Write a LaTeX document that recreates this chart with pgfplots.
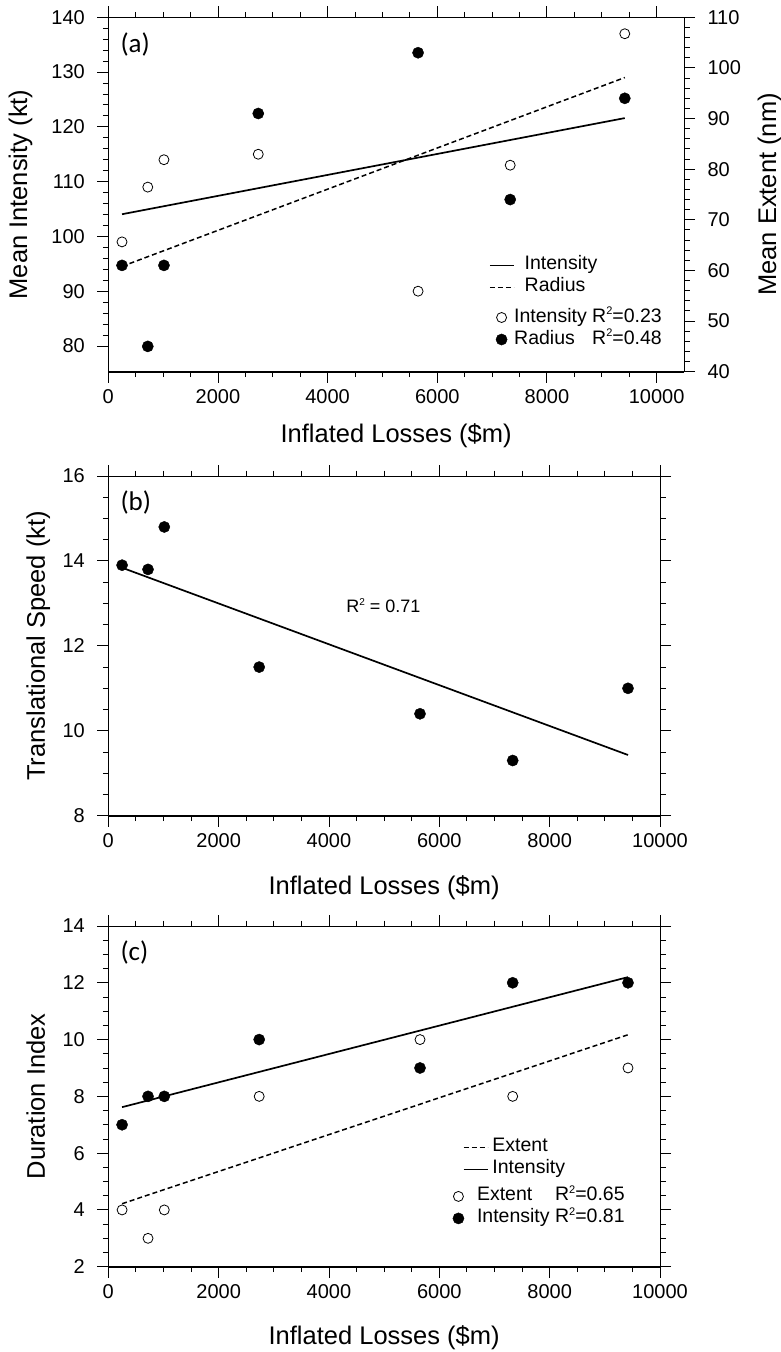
\documentclass[border=0pt]{standalone}
\usepackage{fontspec}
\setmainfont{Liberation Sans}
\newfontfamily\panelfont{Carlito}
\usepackage{pgfplots}
\pgfplotsset{compat=1.18}
\newcommand{\sqr}{\raisebox{7.5pt}{\fontsize{11}{11}\selectfont 2}}
\pgfplotsset{
 ncl/.style={
  scale only axis,
  axis line style={line width=0.9pt},
  tick align=outside,
  major tick length=11pt,
  minor tick length=5.5pt,
  every tick/.style={line width=0.9pt, black},
  tick label style={font=\fontsize{20}{20}\selectfont},
  xticklabel shift=3.5pt,
  yticklabel shift=9pt,
  label style={font=\fontsize{25.5}{25.5}\selectfont},
  /pgf/number format/assume math mode=true,
  /pgf/number format/1000 sep={},
  xmin=0,
  xtick={0,2000,...,10000},
  minor x tick num=3,
  scaled x ticks=false,
  scaled y ticks=false,
  clip=false,
  legend cell align=left,
 },
 legbase/.style={legend style={draw=none, fill=none, inner sep=0pt, outer sep=0pt,
   font=\fontsize{19.5}{19.5}\selectfont, row sep=3pt,
   nodes={inner sep=0pt, text height=14pt, text depth=5pt, anchor=west}}},
 lineleg/.style={legend image code/.code={\draw[##1] (0pt,0pt) -- (24pt,0pt);}},
 markleg/.style={legend image code/.code={\draw[mark repeat=1,mark phase=1,##1] plot coordinates {(5pt,0pt)};}},
 openpt/.style={only marks, mark=o, mark size=5pt, mark options={line width=0.8pt, black}, markleg},
 fillpt/.style={only marks, mark=*, mark size=5.6pt, mark options={black, fill=black}, markleg},
 solidfit/.style={black, line width=1.7pt, lineleg},
 dashfit/.style={black, line width=1.5pt, dash pattern=on 5pt off 3pt, lineleg},
}
\begin{document}
\begin{tikzpicture}
\path[use as bounding box] (0,0) rectangle (781pt,-1352pt);

% ---------------- Panel (a), left axis: intensity
\begin{axis}[ncl, legbase, at={(108.3pt,-17.3pt)}, anchor=north west,
  width=575.7pt, height=354.4pt,
  xmax=10500, ymin=75.3, ymax=140, ytick={80,90,...,140}, minor y tick num=4,
  xtick pos=both, ytick pos=left,
  xlabel={Inflated Losses (\$m)}, ylabel={Mean Intensity (kt)},
  xlabel style={at={(axis description cs:0.5,-0.201)}, anchor=base},
  ylabel style={at={(axis description cs:-0.141,0.5)}, anchor=base},
  legend style={at={(axis description cs:0.6613,0.3265)}, anchor=north west, column sep=10pt}]
\addplot[openpt, forget plot] coordinates {(250,99)(720,109)(1015,114)(2735,115)(5650,90)(7330,113)(9420,137)};
\addplot[solidfit] coordinates {(250,104.05)(9420,121.6)};
\addlegendentry{Intensity}
\addlegendimage{dashfit}
\addlegendentry{Radius}
\draw[line width=1.8pt] (rel axis cs:0,0) -- (rel axis cs:1,0);
\node[anchor=north west, inner sep=0pt, font=\panelfont\fontsize{27}{27}\selectfont] at ([xshift=12pt,yshift=-15pt]rel axis cs:0,1) {(a)};
\end{axis}

% ---------------- Panel (a), right axis: extent
\begin{axis}[ncl, legbase, at={(108.3pt,-17.3pt)}, anchor=north west,
  width=575.7pt, height=354.4pt,
  xmax=10500, ymin=40, ymax=110, ytick={40,50,...,110}, minor y tick num=4,
  axis y line*=right, hide x axis,
  ylabel={Mean Extent (nm)},
  ylabel style={at={(axis description cs:1.160,0.5)}, anchor=base},
  legend style={at={(axis description cs:0.6734,0.1797)}, anchor=north west, column sep=7pt}]
\addlegendimage{openpt}
\addlegendentry{Intensity R\sqr=0.23}
\addplot[dashfit, forget plot] coordinates {(250,60.8)(9420,98.1)};
\addplot[fillpt] coordinates {(250,61)(720,45)(1015,61)(2735,91)(5650,103)(7330,74)(9420,94)};
\addlegendentry{\rlap{Radius}\phantom{Intensity} R\sqr=0.48}
\end{axis}

% ---------------- Panel (b)
\begin{axis}[ncl, at={(108.3pt,-476pt)}, anchor=north west,
  width=551.7pt, height=339.7pt,
  xmax=10000, ymin=8, ymax=16, ytick={8,10,...,16}, minor y tick num=3,
  xtick pos=both, ytick pos=both,
  xlabel={Inflated Losses (\$m)}, ylabel={Translational Speed (kt)},
  xlabel style={at={(axis description cs:0.5,-0.2305)}, anchor=base},
  ylabel style={at={(axis description cs:-0.115,0.5)}, anchor=base}]
\addplot[fillpt] coordinates {(250,13.9)(720,13.8)(1015,14.8)(2735,11.5)(5650,10.4)(7330,9.3)(9420,11.0)};
\addplot[solidfit] coordinates {(250,13.84)(9420,9.43)};
\node[font=\fontsize{18}{18}\selectfont, anchor=center] at (axis cs:4986,12.94) {R\raisebox{7pt}{\fontsize{10}{10}\selectfont 2} = 0.71};
\draw[line width=1.8pt] (rel axis cs:0,0) -- (rel axis cs:1,0);
\node[anchor=north west, inner sep=0pt, font=\panelfont\fontsize{27}{27}\selectfont] at ([xshift=12pt,yshift=-15pt]rel axis cs:0,1) {(b)};
\end{axis}

% ---------------- Panel (c), lines
\begin{axis}[ncl, legbase, at={(108.3pt,-926pt)}, anchor=north west,
  width=551.7pt, height=340.7pt,
  xmax=10000, ymin=2, ymax=14, ytick={2,4,...,14}, minor y tick num=3,
  xtick pos=both, ytick pos=both,
  xlabel={Inflated Losses (\$m)}, ylabel={Duration Index},
  xlabel style={at={(axis description cs:0.5,-0.227)}, anchor=base},
  ylabel style={at={(axis description cs:-0.115,0.5)}, anchor=base},
  legend style={at={(axis description cs:0.6425,0.3780)}, anchor=north west, column sep=4pt}]
\addplot[dashfit] coordinates {(250,4.22)(9420,10.17)};
\addlegendentry{Extent}
\addplot[solidfit] coordinates {(250,7.62)(9420,12.2)};
\addlegendentry{Intensity}
\draw[line width=1.8pt] (rel axis cs:0,0) -- (rel axis cs:1,0);
\node[anchor=north west, inner sep=0pt, font=\panelfont\fontsize{27}{27}\selectfont] at ([xshift=12pt,yshift=-15pt]rel axis cs:0,1) {(c)};
\end{axis}

% ---------------- Panel (c), markers
\begin{axis}[ncl, legbase, at={(108.3pt,-926pt)}, anchor=north west,
  width=551.7pt, height=340.7pt,
  xmax=10000, ymin=2, ymax=14, hide axis,
  legend style={at={(axis description cs:0.6245,0.2342)}, anchor=north west, column sep=13pt}]
\addplot[openpt] coordinates {(250,4)(720,3)(1015,4)(2735,8)(5650,10)(7330,8)(9420,9)};
\addlegendentry{\rlap{Extent}\phantom{Intensity} R\sqr=0.65}
\addplot[fillpt] coordinates {(250,7)(720,8)(1015,8)(2735,10)(5650,9)(7330,12)(9420,12)};
\addlegendentry{Intensity R\sqr=0.81}
\end{axis}
\end{tikzpicture}
\end{document}
